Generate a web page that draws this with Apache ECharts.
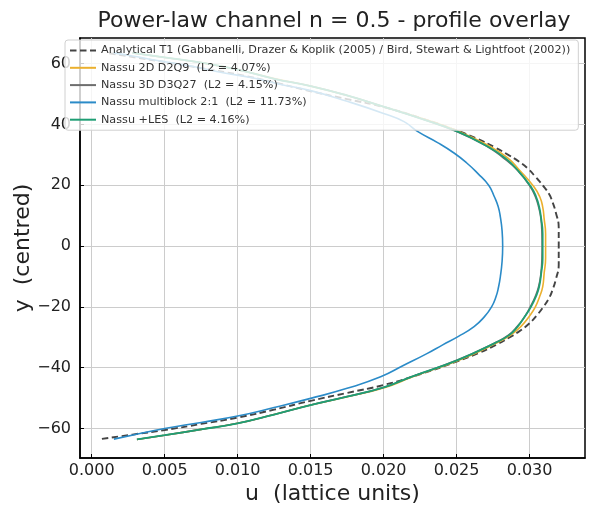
<!DOCTYPE html>
<html>
<head>
<meta charset="utf-8">
<script src="https://cdn.jsdelivr.net/npm/echarts@6/dist/echarts.min.js"></script>
<style>
  html, body { margin: 0; padding: 0; background: #fff; }
  #chart { width: 593px; height: 519px; }
</style>
</head>
<body>
<div id="chart"></div>
<script>
// profile data (u in lattice units, y centred)
var anaY = [-63.4, -62.0, -60.5, -58.5, -56.4, -53.8, -50.9, -48.3, -45.7, -42.0, -38.0, -35.3, -32.5, -29.8, -27.7, -25.4, -22.8, -20.0, -17.0, -14.5, -11.0, -6.0, 0, 6.0, 11.0, 14.5, 17.0, 20.0, 22.8, 25.4, 27.7, 29.8, 32.5, 35.3, 38.0, 42.0, 45.7, 48.3, 50.9, 53.8, 56.4, 58.5, 60.5, 62.0, 63.4];
var anaU = [0.0007, 0.0028, 0.0050, 0.0075, 0.0100, 0.0125, 0.0150, 0.0175, 0.0200, 0.0226, 0.0250, 0.02645, 0.0277, 0.02872, 0.0294, 0.0300, 0.0305, 0.03095, 0.03135, 0.03157, 0.0318, 0.0320, 0.0320, 0.0320, 0.0318, 0.03157, 0.03135, 0.0309, 0.0304, 0.0299, 0.0293, 0.0286, 0.0276, 0.0264, 0.0250, 0.0226, 0.0200, 0.0175, 0.0150, 0.0125, 0.0100, 0.0075, 0.0050, 0.0030, 0.0012];

var d2Y = [-63.6, -62.2, -60.3, -58.3, -55.4, -52.3, -49.5, -46.5, -43.0, -37.5, -32.0, -29.3, -26.5, -23.0, -20.0, -16.5, -13.4, -9.0, -4.0, 0, 4.0, 9.0, 12.9, 16.2, 19.5, 25.0, 29.0, 32.7, 37.6, 42.0, 45.8, 49.5, 52.6, 55.0, 58.0, 60.3, 62.0, 63.5];
var d2U = [0.0031, 0.0050, 0.0075, 0.0100, 0.0125, 0.0150, 0.0176, 0.0201, 0.0220, 0.0252, 0.0277, 0.0287, 0.0294, 0.0300, 0.0304, 0.0307, 0.0309, 0.0310, 0.0311, 0.0311, 0.0311, 0.0310, 0.0309, 0.0307, 0.0303, 0.0293, 0.0285, 0.0273, 0.0252, 0.0226, 0.0200, 0.0175, 0.0150, 0.0126, 0.0100, 0.0075, 0.0050, 0.0028];

var d3Y = [-63.6, -62.2, -60.3, -58.3, -55.4, -52.3, -49.5, -46.5, -43.0, -37.5, -32.0, -29.3, -26.5, -23.0, -20.0, -16.5, -13.4, -9.0, -4.0, 0, 4.0, 9.0, 12.9, 16.2, 19.5, 25.0, 29.0, 32.7, 37.6, 42.0, 45.8, 49.5, 52.6, 55.0, 58.0, 60.3, 62.0, 63.5];
var d3U = [0.0031, 0.0050, 0.0075, 0.0100, 0.0125, 0.0150, 0.0175, 0.0200, 0.0219, 0.02505, 0.02755, 0.02855, 0.02915, 0.0297, 0.03005, 0.0304, 0.03062, 0.03078, 0.03085, 0.03086, 0.03085, 0.03078, 0.03062, 0.0304, 0.03005, 0.02915, 0.0282, 0.0271, 0.02505, 0.0225, 0.0200, 0.0175, 0.0150, 0.0125, 0.0100, 0.0075, 0.0050, 0.0028];

var mbY = [-63.5, -62.0, -60.0, -58.0, -55.9, -53.1, -50.1, -46.8, -43.0, -39.3, -35.3, -32.5, -29.8, -26.5, -23.3, -20.0, -16.7, -13.4, -10.1, -5.0, 0, 5.0, 9.6, 13.0, 16.2, 20.0, 23.9, 27.3, 30.5, 34.0, 37.6, 40.9, 43.6, 47.6, 51.1, 53.3, 55.3, 57.0, 59.2, 61.0, 62.5, 63.5];
var mbU = [0.00152, 0.0030, 0.0050, 0.0075, 0.0100, 0.0125, 0.0150, 0.0175, 0.0198, 0.02135, 0.0230, 0.02405, 0.0251, 0.0262, 0.0269, 0.0274, 0.0277, 0.02788, 0.0280, 0.02812, 0.02816, 0.02812, 0.0280, 0.02785, 0.02759, 0.0272, 0.02645, 0.0257, 0.02485, 0.0237, 0.02235, 0.0214, 0.0200, 0.0175, 0.0150, 0.0128, 0.0110, 0.0090, 0.0068, 0.0045, 0.0028, 0.0015];

var lesY = [-63.6, -62.2, -60.3, -58.3, -55.4, -52.3, -49.5, -46.5, -43.0, -37.5, -32.0, -29.3, -26.5, -23.0, -20.0, -16.5, -13.4, -9.0, -4.0, 0, 4.0, 9.0, 12.9, 16.2, 19.5, 25.0, 29.0, 32.7, 37.6, 42.0, 45.8, 49.5, 52.6, 55.0, 58.0, 60.3, 62.0, 63.5];
var lesU = [0.0031, 0.0050, 0.0075, 0.0100, 0.0125, 0.0150, 0.0175, 0.0200, 0.0219, 0.02508, 0.02759, 0.0286, 0.02918, 0.0297, 0.0301, 0.03045, 0.03066, 0.0308, 0.0309, 0.0309, 0.0309, 0.0308, 0.03066, 0.03045, 0.0301, 0.02918, 0.0283, 0.02713, 0.02508, 0.0225, 0.0200, 0.0175, 0.0150, 0.0125, 0.0100, 0.0075, 0.0050, 0.0028];

var xTicks = [0, 0.005, 0.010, 0.015, 0.020, 0.025, 0.030];
var yTicks = [-60, -40, -20, 0, 20, 40, 60];

var names = [
  'Analytical T1 (Gabbanelli, Drazer & Koplik (2005) / Bird, Stewart & Lightfoot (2002))',
  'Nassu 2D D2Q9  (L2 = 4.07%)',
  'Nassu 3D D3Q27  (L2 = 4.15%)',
  'Nassu multiblock 2:1  (L2 = 11.73%)',
  'Nassu +LES  (L2 = 4.16%)'
];

function pairs(us, ys) {
  return us.map(function (u, i) { return [u, ys[i]]; });
}

var chart = echarts.init(document.getElementById('chart'));
var font = 'DejaVu Sans';

function mkLine(name, data, color, dashed, width) {
  return {
    name: name,
    type: 'line',
    data: data,
    showSymbol: false,
    symbol: 'none',
    smooth: 0.5,
    z: 3,
    lineStyle: { color: color, width: width, type: dashed ? [6.5, 3.5] : 'solid' },
    itemStyle: { color: color }
  };
}

var option = {
  animation: false,
  backgroundColor: '#fff',
  title: {
    text: 'Power-law channel n = 0.5 - profile overlay',
    left: 329,
    textAlign: 'center',
    top: 5,
    textStyle: { fontFamily: font, fontSize: 22, fontWeight: 'normal', color: '#222' }
  },
  legend: {
    orient: 'vertical',
    left: 65,
    top: 40,
    z: 10,
    padding: [5, 8, 5, 4],
    itemGap: 6.3,
    itemWidth: 26,
    itemHeight: 11,
    itemStyle: { opacity: 0 },
    backgroundColor: 'rgba(255,255,255,0.8)',
    borderColor: '#d0d0d0',
    borderWidth: 1,
    borderRadius: 3,
    textStyle: { fontFamily: font, fontSize: 11.2, color: '#333' },
    data: names
  },
  grid: {
    left: 80, right: 8, top: 38, bottom: 61,
    outerBoundsMode: 'none',
    containLabel: false,
    show: true, borderColor: '#000', borderWidth: 1.5, backgroundColor: 'transparent'
  },
  xAxis: {
    type: 'value',
    min: -0.0008,
    max: 0.0338,
    name: 'u  (lattice units)',
    nameLocation: 'middle',
    nameGap: 25,
    nameMoveOverlap: false,
    nameTextStyle: { fontFamily: font, fontSize: 22, color: '#222' },
    axisLine: { show: true, onZero: false, lineStyle: { color: '#000', width: 1.5 } },
    axisTick: { show: true, inside: true, length: 4, customValues: xTicks, lineStyle: { color: '#000' } },
    axisLabel: {
      customValues: xTicks,
      fontFamily: font, fontSize: 16, color: '#222', margin: 5,
      formatter: function (v) { return v.toFixed(3); }
    },
    splitLine: { show: true, lineStyle: { color: '#cccccc', width: 1 } }
  },
  yAxis: {
    type: 'value',
    min: -69.7,
    max: 68.4,
    name: 'y  (centred)',
    nameLocation: 'middle',
    nameGap: 46,
    nameRotate: 90,
    nameMoveOverlap: false,
    nameTextStyle: { fontFamily: font, fontSize: 22, color: '#222' },
    axisLine: { show: true, onZero: false, lineStyle: { color: '#000', width: 1.5 } },
    axisTick: { show: true, inside: true, length: 4, customValues: yTicks, lineStyle: { color: '#000' } },
    axisLabel: {
      customValues: yTicks,
      fontFamily: font, fontSize: 16, color: '#222', margin: 9,
      formatter: function (v) { return v < 0 ? '\u2212' + Math.abs(v) : String(v); }
    },
    splitLine: { show: true, lineStyle: { color: '#cccccc', width: 1 } }
  },
  series: [
    mkLine(names[0], pairs(anaU, anaY), '#444444', true, 1.9),
    mkLine(names[1], pairs(d2U, d2Y), '#ebb02e', false, 1.6),
    mkLine(names[2], pairs(d3U, d3Y), '#6e6e6e', false, 1.6),
    mkLine(names[3], pairs(mbU, mbY), '#2b8bc8', false, 1.6),
    mkLine(names[4], pairs(lesU, lesY), '#1f9e74', false, 1.8)
  ]
};

chart.setOption(option);
</script>
</body>
</html>
